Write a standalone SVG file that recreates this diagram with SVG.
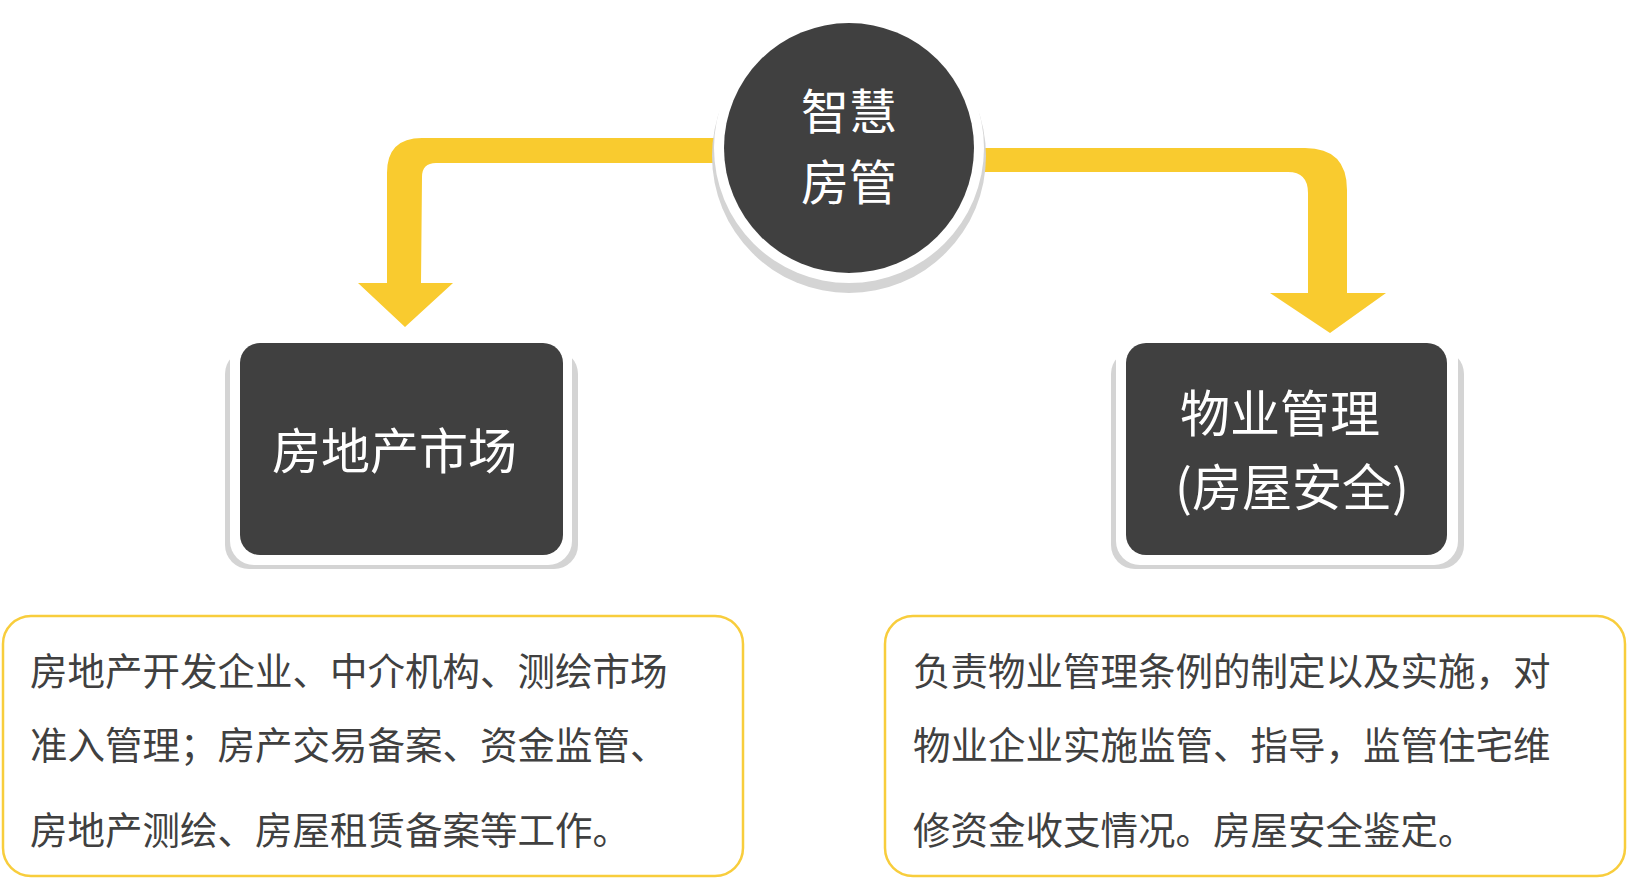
<svg xmlns="http://www.w3.org/2000/svg" width="1628" height="878" viewBox="0 0 1628 878">
<style>
.shadow{fill:#d4d4d4}
.halo{fill:#ffffff}
.dark{fill:#404040}
.wt{fill:#ffffff;font-family:"Noto Sans CJK SC","Noto Sans CJK JP",sans-serif}
.desc{fill:#ffffff;stroke:#f8cd3c;stroke-width:2.5}
.dt{fill:#404040;font-family:"Noto Sans CJK SC","Noto Sans CJK JP",sans-serif;font-size:37.5px}
.arrow{fill:#f9cb2f}
</style>
<rect width="1628" height="878" fill="#ffffff"/>
<g id="connectors">
<path class="arrow" d="M 740 138 L 422 138 Q 387 138 387 173 L 387 283 L 358 283 L 405 327 L 453 283 L 421 283 L 422 177 Q 422 163 436 163 L 740 163 Z"/>
<path class="arrow" d="M 960 148 L 1305 148 Q 1347 148 1347 190 L 1347 293 L 1386 293 L 1330 333 L 1270 293 L 1308 293 L 1308 193 Q 1308 172 1288 172 L 960 172 Z"/>
</g>
<g id="node-center">
<circle class="shadow" cx="849" cy="156" r="137"/>
<circle class="halo" cx="849" cy="148" r="135"/>
<circle class="dark" cx="849" cy="148" r="125"/>
<text class="wt" x="849" y="129" font-size="48" text-anchor="middle">智慧</text>
<text class="wt" x="849" y="200" font-size="48" text-anchor="middle">房管</text>
</g>
<g id="node-market">
<rect class="shadow" x="225" y="350" width="353" height="219" rx="24"/>
<rect class="halo" x="230" y="333" width="342" height="232" rx="24"/>
<rect class="dark" x="240" y="343" width="323" height="212" rx="20"/>
<text class="wt" x="272" y="469" font-size="49">房地产市场</text>
</g>
<g id="node-property">
<rect class="shadow" x="1111" y="350" width="353" height="219" rx="24"/>
<rect class="halo" x="1116" y="333" width="342" height="232" rx="24"/>
<rect class="dark" x="1126" y="343" width="321" height="212" rx="20"/>
<text class="wt" x="1180" y="432" font-size="50">物业管理</text>
<text class="wt" x="1175" y="506" font-size="50">(房屋安全)</text>
</g>
<g id="desc-market">
<rect class="desc" x="3" y="616" width="740" height="260" rx="28"/>
<text class="dt" x="30" y="685">房地产开发企业、中介机构、测绘市场</text>
<text class="dt" x="30" y="759">准入管理；房产交易备案、资金监管、</text>
<text class="dt" x="30" y="844">房地产测绘、房屋租赁备案等工作。</text>
</g>
<g id="desc-property">
<rect class="desc" x="885" y="616" width="740" height="260" rx="28"/>
<text class="dt" x="913" y="685">负责物业管理条例的制定以及实施，对</text>
<text class="dt" x="913" y="759">物业企业实施监管、指导，监管住宅维</text>
<text class="dt" x="913" y="844">修资金收支情况。房屋安全鉴定。</text>
</g>
</svg>
